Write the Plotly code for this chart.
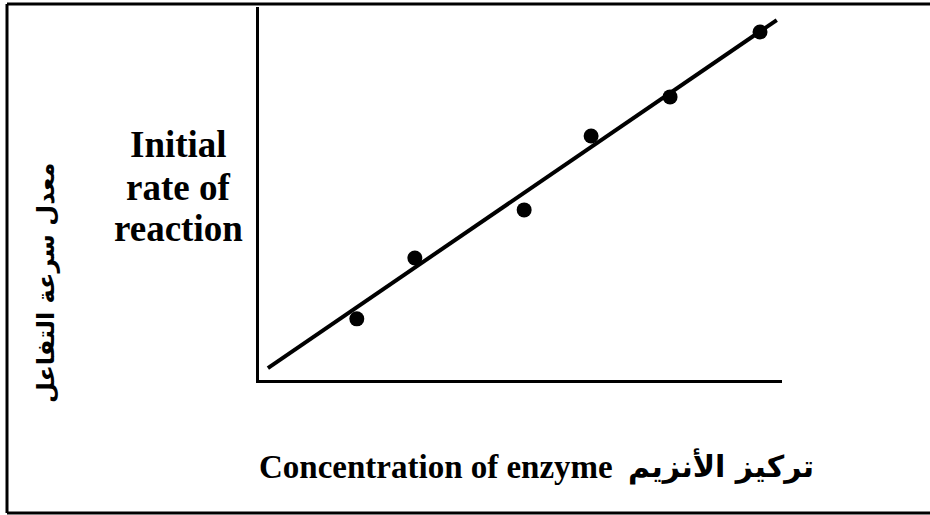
import plotly.graph_objects as go

# Data (arbitrary units)
enzyme_conc = [1.87, 2.98, 5.07, 6.35, 7.86, 9.58]
initial_rate = [1.64, 3.27, 4.56, 6.54, 7.59, 9.33]
fit_x = [0.17, 9.90]
fit_y = [0.32, 9.65]

W, H = 930, 515
L, R, T, B = 259, 782, 7, 380  # plot area in pixels


def px(x):
    return (x - L) / (R - L)


def py(y):
    return (B - y) / (B - T)


fig = go.Figure()
fig.add_trace(go.Scatter(x=fit_x, y=fit_y, mode="lines",
                         line=dict(color="black", width=4), showlegend=False,
                         hoverinfo="skip"))
fig.add_trace(go.Scatter(x=enzyme_conc, y=initial_rate, mode="markers",
                         marker=dict(color="black", size=15), showlegend=False))

fig.update_layout(
    width=W, height=H,
    margin=dict(l=L, r=W - R, t=T, b=H - B, pad=0),
    paper_bgcolor="white", plot_bgcolor="white",
    xaxis=dict(range=[0, 10], showgrid=False, zeroline=False, showticklabels=False,
               ticks="", showline=True, linecolor="black", linewidth=3),
    yaxis=dict(range=[0, 10], showgrid=False, zeroline=False, showticklabels=False,
               ticks="", showline=True, linecolor="black", linewidth=3),
)

# outer frame (open on the right, as in the original)
for x0, y0, x1, y1 in [(7, 4, 930, 4), (7, 4, 7, 513), (7, 513, 930, 513)]:
    fig.add_shape(type="line", xref="paper", yref="paper",
                  x0=px(x0), y0=py(y0), x1=px(x1), y1=py(y1),
                  line=dict(color="black", width=3), layer="below")

serif = "Liberation Serif, Times New Roman, serif"
for txt, yy in [("Initial", 144), ("rate of", 187), ("reaction", 229)]:
    fig.add_annotation(xref="paper", yref="paper", x=px(178), y=py(yy),
                       text="<b>" + txt + "</b>", showarrow=False,
                       font=dict(family=serif, size=37, color="black"),
                       xanchor="center", yanchor="middle")
fig.add_annotation(xref="paper", yref="paper", x=px(436), y=py(467),
                   text="<b>Concentration of enzyme</b>", showarrow=False,
                   font=dict(family=serif, size=33, color="black"),
                   xanchor="center", yanchor="middle")
fig.add_annotation(xref="paper", yref="paper", x=px(721), y=py(466),
                   text="<b>تركيز الأنزيم</b>", showarrow=False,
                   font=dict(family="DejaVu Sans, Arial, sans-serif", size=30, color="black"),
                   xanchor="center", yanchor="middle")
fig.add_annotation(xref="paper", yref="paper", x=px(46), y=py(283),
                   text="<b>معدل سرعة التفاعل</b>", showarrow=False, textangle=-90,
                   font=dict(family="DejaVu Sans, serif", size=24, color="black"),
                   xanchor="center", yanchor="middle")

fig.write_html("out.html", config={"displayModeBar": False},
               post_script="document.body.style.margin='0';")
